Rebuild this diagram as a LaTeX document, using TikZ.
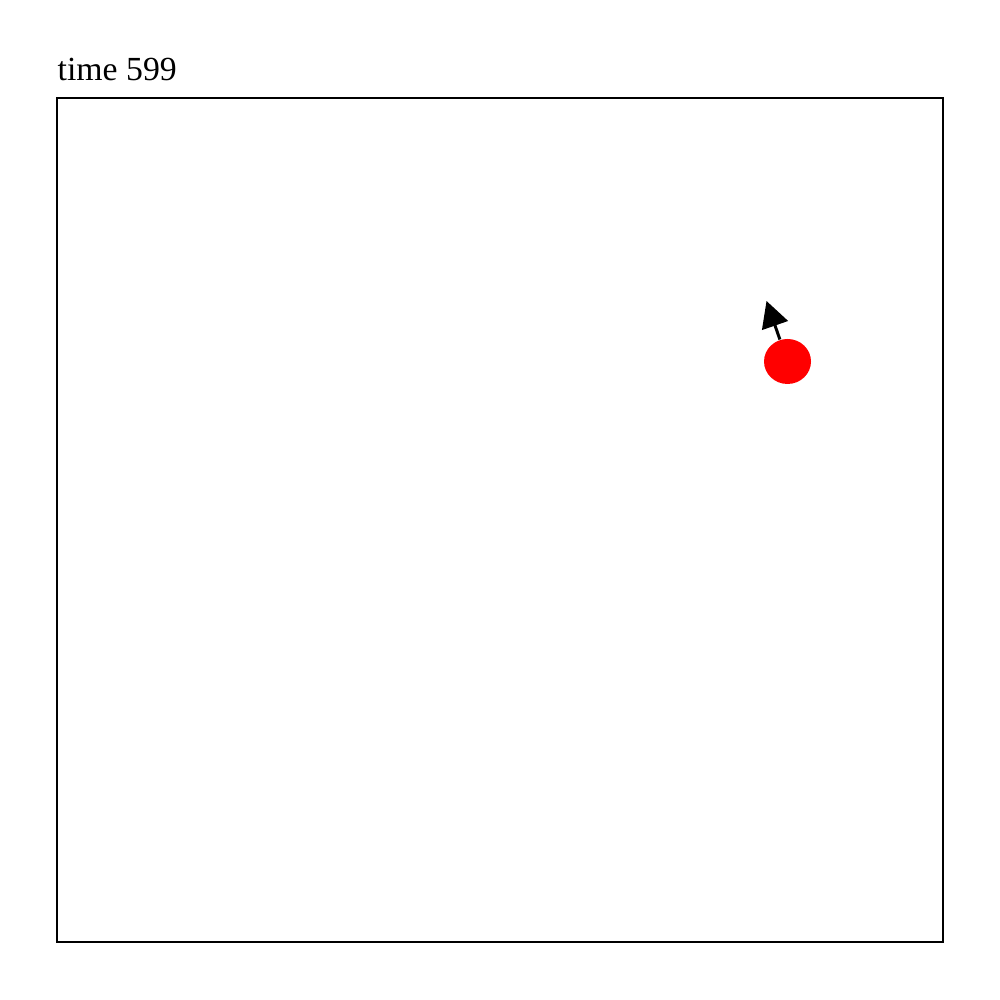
\documentclass[tikz,border=0pt]{standalone}
\usepackage{fontspec}
\setmainfont{Liberation Serif}
\usepackage{tikz}
\usetikzlibrary{arrows.meta,shapes.geometric}

\begin{document}
\begin{tikzpicture}[
  frame/.style={draw, line width=0.55pt},
  agent/.style={ellipse, fill=red, minimum width=0.47cm, minimum height=0.45cm,
                inner sep=0pt},
  heading/.style={-{Triangle[length=0.26cm, width=0.27cm]}, line width=0.85pt},
  title/.style={anchor=base west, inner sep=0pt, font=\fontsize{9.6}{11}\selectfont},
]
\useasboundingbox (0,0) rectangle (10,10);

% Arena
\draw[frame] (0.57,0.58) rectangle (9.43,9.02);
\node[title] (label) at (0.57,9.19) {time 599};

% Agent and its heading
\node[agent] (bot) at (7.875,6.385) {};
\coordinate (tip) at (7.665,6.99);
\draw[heading] (bot) -- (tip);

\end{tikzpicture}
\end{document}
